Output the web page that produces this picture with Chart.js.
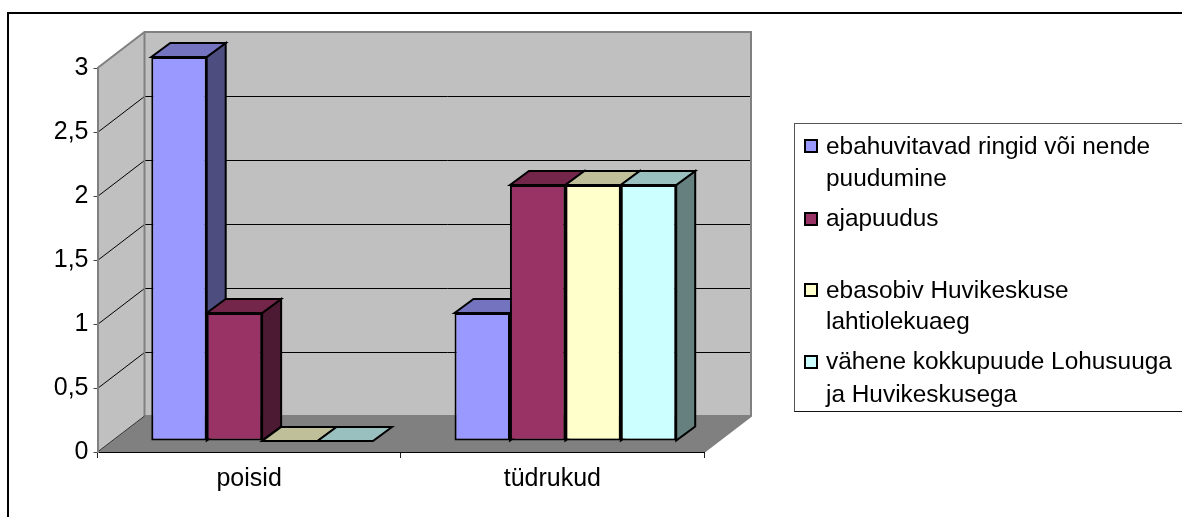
<!DOCTYPE html>
<html>
<head>
<meta charset="utf-8">
<script src="https://cdn.jsdelivr.net/npm/chart.js@4"></script>
<style>
html,body{margin:0;padding:0;background:#fff;width:1182px;height:517px;overflow:hidden}
#frame{position:absolute;left:7px;top:12px;width:1300px;height:700px;border:2px solid #000;box-sizing:border-box}
#wrap{position:absolute;left:0;top:0;width:1182px;height:517px}
#legend{position:absolute;left:794px;top:123px;width:500px;height:289px;border:1px solid #555;border-bottom-color:#111;box-sizing:border-box;font-family:"Liberation Sans",Arial,sans-serif;font-size:24.4px;color:#000}
#legend .m{position:absolute;left:9px;width:14px;height:14px;border:2px solid #000;box-sizing:border-box}
#legend .t{position:absolute;left:31px;white-space:nowrap;line-height:26px}
</style>
</head>
<body>
<div id="frame"></div>
<div id="wrap"><canvas id="c" width="1182" height="517"></canvas></div>
<div id="legend"></div>
<script>
const categories = ['poisid', 'tüdrukud'];
const seriesNames = [
  ['ebahuvitavad ringid või nende', 'puudumine'],
  ['ajapuudus'],
  ['ebasobiv Huvikeskuse', 'lahtiolekuaeg'],
  ['vähene kokkupuude Lohusuuga', 'ja Huvikeskusega']
];
const ebahuvitavad = [3, 1];
const ajapuudus = [1, 2];
const ebasobiv = [0, 2];
const vahene = [0, 2];
const seriesValues = [ebahuvitavad, ajapuudus, ebasobiv, vahene];
const frontColors = ['#9999FF', '#993366', '#FFFFCC', '#CCFFFF'];
const topColors = ['#7373BF', '#732649', '#BFBF99', '#99BFBF'];
const sideColors = ['#4D4D80', '#4D1A33', '#808066', '#668080'];
const legendMarkerTops = [15, 88, 159, 231];
const legendLineTops = [[15, 47], [87], [159, 190], [230, 263]];

// oblique projection constants
const WALL_DX = 47, WALL_DY = 36;
const BAR_SHIFT_X = 13, BAR_SHIFT_Y = 11;
const BAR_DX = 19, BAR_DY = 14;

function poly(ctx, pts, fill, stroke, lw) {
  ctx.beginPath();
  pts.forEach((p, i) => i ? ctx.lineTo(p[0], p[1]) : ctx.moveTo(p[0], p[1]));
  ctx.closePath();
  if (fill) { ctx.fillStyle = fill; ctx.fill(); }
  if (stroke) { ctx.strokeStyle = stroke; ctx.lineWidth = lw; ctx.lineJoin = 'miter'; ctx.stroke(); }
}

const walls = {
  id: 'walls',
  beforeDraw(chart) {
    const { ctx, scales: { x, y } } = chart;
    const l = x.left, r = x.right, y0 = y.getPixelForValue(0), yT = y.getPixelForValue(3);
    ctx.save();
    // left wall
    poly(ctx, [[l, y0], [l, yT], [l + WALL_DX, yT - WALL_DY], [l + WALL_DX, y0 - WALL_DY]], '#C0C0C0');
    // back wall
    poly(ctx, [[l + WALL_DX, yT - WALL_DY], [r + WALL_DX, yT - WALL_DY], [r + WALL_DX, y0 - WALL_DY], [l + WALL_DX, y0 - WALL_DY]], '#C0C0C0');
    // floor
    poly(ctx, [[l, y0], [r, y0], [r + WALL_DX, y0 - WALL_DY], [l + WALL_DX, y0 - WALL_DY]], '#808080');
    // grid lines
    ctx.strokeStyle = '#000'; ctx.lineWidth = 1;
    y.ticks.forEach(t => {
      if (t.value <= 0 || t.value >= 3) return;
      const py = Math.round(y.getPixelForValue(t.value)) + 0.5;
      ctx.beginPath();
      ctx.moveTo(l, py);
      ctx.lineTo(l + WALL_DX, py - WALL_DY);
      ctx.lineTo(r + WALL_DX, py - WALL_DY);
      ctx.stroke();
    });
    // wall edges
    ctx.strokeStyle = '#808080'; ctx.lineWidth = 2;
    ctx.beginPath();
    ctx.moveTo(l, yT);
    ctx.lineTo(l + WALL_DX, yT - WALL_DY);
    ctx.lineTo(r + WALL_DX, yT - WALL_DY);
    ctx.lineTo(r + WALL_DX, y0 - WALL_DY);
    ctx.lineTo(r, y0);
    ctx.moveTo(l + WALL_DX, yT - WALL_DY);
    ctx.lineTo(l + WALL_DX, y0 - WALL_DY);
    ctx.lineTo(r + WALL_DX, y0 - WALL_DY);
    ctx.moveTo(l + WALL_DX, y0 - WALL_DY);
    ctx.stroke();
    ctx.lineWidth = 1;
    ctx.strokeStyle = '#333';
    ctx.beginPath();
    ctx.moveTo(l, y0);
    ctx.lineTo(l + WALL_DX, y0 - WALL_DY);
    ctx.stroke();
    ctx.restore();
  },
  beforeDatasetsDraw(chart) {
    const ctx = chart.ctx;
    ctx.save();
    ctx.translate(BAR_SHIFT_X, -BAR_SHIFT_Y);
    // side and top faces, left to right; the library's own bars cover them afterwards
    seriesValues[0].forEach((_, ci) => {
      chart.data.datasets.forEach((ds, di) => {
        const el = chart.getDatasetMeta(di).data[ci];
        const L = el.x - el.width / 2, R = el.x + el.width / 2, T = el.y, B = el.base;
        if (B - T > 0.5) {
          poly(ctx, [[R, T], [R + BAR_DX, T - BAR_DY], [R + BAR_DX, B - BAR_DY], [R, B]], sideColors[di], '#000', 2);
        }
        poly(ctx, [[L, T], [L + BAR_DX, T - BAR_DY], [R + BAR_DX, T - BAR_DY], [R, T]], topColors[di], '#000', 2);
      });
    });
    ctx.restore();
  },
  beforeDatasetDraw(chart) {
    chart.ctx.save();
    chart.ctx.translate(BAR_SHIFT_X, -BAR_SHIFT_Y);
  },
  afterDatasetDraw(chart) {
    chart.ctx.restore();
  }
};

new Chart(document.getElementById('c'), {
  type: 'bar',
  data: {
    labels: categories,
    datasets: seriesValues.map((vals, i) => ({
      label: seriesNames[i].join(' '),
      data: vals,
      backgroundColor: frontColors[i],
      borderColor: '#000',
      borderWidth: 2,
      borderSkipped: false,
      barPercentage: 1,
      categoryPercentage: 0.731,
      clip: false
    }))
  },
  options: {
    responsive: false,
    animation: false,
    layout: { padding: { left: 0, right: 478, top: 68, bottom: 0 } },
    plugins: { legend: { display: false }, tooltip: { enabled: false }, title: { display: false } },
    scales: {
      x: {
        afterFit(s) { s.height = 65; },
        grid: { offset: true, drawOnChartArea: false, tickLength: 6, tickColor: '#222', tickWidth: 1 },
        border: { color: '#000', width: 1 },
        ticks: { color: '#000', padding: 6, font: { family: '"Liberation Sans"', size: 25 } }
      },
      y: {
        min: 0, max: 3,
        afterFit(s) { s.width = 97.5; },
        grid: { drawOnChartArea: false, tickLength: 4, tickColor: '#444', tickWidth: 1 },
        border: { color: '#808080', width: 2 },
        ticks: {
          stepSize: 0.5, color: '#000', padding: 5,
          font: { family: '"Liberation Sans"', size: 25 },
          callback: v => String(v).replace('.', ',')
        }
      }
    }
  },
  plugins: [walls]
});

const legend = document.getElementById('legend');
seriesNames.forEach((lines, i) => {
  const m = document.createElement('div');
  m.className = 'm';
  m.style.top = legendMarkerTops[i] + 'px';
  m.style.background = frontColors[i];
  legend.appendChild(m);
  lines.forEach((line, j) => {
    const t = document.createElement('div');
    t.className = 't';
    t.style.top = (legendLineTops[i][j] - 6) + 'px';
    t.textContent = line;
    legend.appendChild(t);
  });
});
</script>
</body>
</html>
